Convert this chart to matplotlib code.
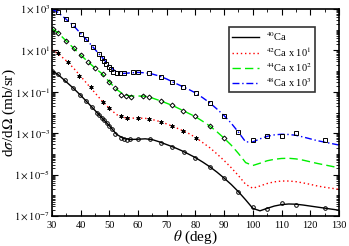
import numpy as np
import matplotlib
matplotlib.use("Agg")
import matplotlib.pyplot as plt
from matplotlib.ticker import LogLocator, MultipleLocator, FixedLocator, NullFormatter

plt.rcParams['font.family'] = ['Liberation Serif', 'DejaVu Serif']
plt.rcParams['mathtext.fontset'] = 'stix'

# theory curves (log10 of dsigma/dOmega, already scaled)
th_theta = [30, 32, 35, 37.5, 40, 42.5, 45, 47.5, 50, 52.5, 55, 57.5, 60, 62.5, 65, 67.5,
            70, 72.5, 75, 77.5, 80, 82.5, 85, 87.5, 90, 92.5, 95, 97.5, 100, 102.5,
            105, 107.5, 110, 112.5, 115, 117.5, 120, 122.5, 125, 127.5, 130]
th_ca40 = [0.02, -0.15, -0.52, -0.83, -1.17, -1.53, -1.90, -2.27, -2.64, -3.05, -3.26, -3.30,
           -3.29, -3.27, -3.31, -3.42, -3.55, -3.68, -3.83, -4.00, -4.18, -4.39, -4.62, -4.88,
           -5.17, -5.48, -5.83, -6.22, -6.63, -6.75, -6.63, -6.52, -6.45, -6.42, -6.43, -6.47,
           -6.52, -6.57, -6.62, -6.67, -6.72]
th_ca42 = [1.02, 0.86, 0.50, 0.15, -0.25, -0.65, -1.05, -1.45, -1.80, -2.10, -2.24, -2.27,
           -2.27, -2.28, -2.34, -2.43, -2.55, -2.69, -2.84, -3.00, -3.20, -3.45, -3.70, -4.00,
           -4.32, -4.67, -5.05, -5.47, -5.66, -5.55, -5.43, -5.35, -5.31, -5.31, -5.34, -5.40,
           -5.47, -5.55, -5.61, -5.66, -5.71]
th_ca44 = [2.05, 1.87, 1.45, 1.12, 0.78, 0.46, 0.15, -0.13, -0.52, -0.88, -1.13, -1.20,
           -1.20, -1.21, -1.30, -1.42, -1.55, -1.69, -1.86, -2.03, -2.20, -2.42, -2.65, -2.93,
           -3.24, -3.58, -3.98, -4.42, -4.56, -4.45, -4.33, -4.26, -4.22, -4.21, -4.24, -4.30,
           -4.38, -4.46, -4.53, -4.60, -4.67]
th_ca48 = [3.00, 2.85, 2.50, 2.20, 1.82, 1.45, 1.05, 0.66, 0.25, -0.05, -0.11, -0.08,
           -0.06, -0.08, -0.14, -0.24, -0.38, -0.55, -0.71, -0.87, -1.05, -1.28, -1.53, -1.83,
           -2.15, -2.52, -2.95, -3.42, -3.42, -3.27, -3.15, -3.08, -3.05, -3.06, -3.10, -3.18,
           -3.27, -3.36, -3.43, -3.50, -3.57]

# experimental points
ex_theta40 = [30, 32, 34.5, 37.2, 39.9, 42, 43.8, 45.6, 46.5, 47.3, 48.1, 49.1, 50, 50.9, 52,
              54, 55, 56, 57.2, 60, 64, 68, 72, 76, 80, 85, 90, 95, 100, 105, 110, 115, 125]
ex_ca40 = [0.0, -0.12, -0.45, -0.80, -1.15, -1.43, -1.72, -2.01, -2.12, -2.25, -2.36, -2.49,
           -2.64, -2.80, -3.04, -3.25, -3.29, -3.31, -3.29, -3.28, -3.29, -3.46, -3.65, -3.89,
           -4.18, -4.62, -5.18, -5.83, -6.58, -6.65, -6.39, -6.48, -6.63]
ex_theta42 = [32.2, 35.5, 39.5, 43.5, 47.9, 50, 53.9, 56, 60, 63.9, 67.9, 71.7, 75.7, 80.2]
ex_ca42 = [0.86, 0.45, -0.22, -0.78, -1.51, -1.80, -2.19, -2.25, -2.28, -2.31, -2.44, -2.65,
           -2.88, -3.23]
ex_theta44 = [30.3, 32.2, 35, 37.5, 40, 42.5, 45, 47.8, 49.8, 51.9, 54.2, 55.8, 57.5, 61.6,
              63.9, 67.9, 71.7, 75.7, 80, 85.1, 90]
ex_ca44 = [2.02, 1.84, 1.45, 1.13, 0.78, 0.46, 0.16, -0.15, -0.51, -0.80, -1.15, -1.19, -1.24,
           -1.19, -1.27, -1.43, -1.64, -1.91, -2.18, -2.65, -3.25]
ex_theta48 = [32, 35, 37.3, 40, 42, 44.2, 46.5, 47.3, 48, 48.8, 49.7, 50.7, 51.4, 52.6, 53.8,
              55, 58.1, 59.9, 63.9, 67.9, 71.7, 75.7, 80.2, 85.1, 90, 95, 100, 105, 110, 115, 125]
ex_ca48 = [2.85, 2.52, 2.23, 1.82, 1.55, 1.17, 0.83, 0.63, 0.49, 0.34, 0.20, 0.09, -0.02,
           -0.09, -0.11, -0.11, -0.06, -0.04, -0.11, -0.27, -0.51, -0.75, -1.07, -1.56, -2.17,
           -2.94, -3.34, -3.12, -3.13, -3.00, -3.33]

labels = [r'$^{40}$Ca', r'$^{42}$Ca x 10$^{1}$', r'$^{44}$Ca x 10$^{2}$', r'$^{48}$Ca x 10$^{3}$']

fig = plt.figure(figsize=(3.49, 2.46), dpi=100)
ax = fig.add_axes([0.149, 0.122, 0.822, 0.841])

pw = lambda v: 10 ** np.array(v)

ax.plot(th_theta, pw(th_ca40), color='black', lw=1.0, ls='-', label=labels[0])
ax.plot(th_theta, pw(th_ca42), color='red', lw=1.0, ls=(0, (1, 2)), label=labels[1])
ax.plot(th_theta, pw(th_ca44), color='#00ee00', lw=1.0, ls=(0, (6, 3)), label=labels[2])
ax.plot(th_theta, pw(th_ca48), color='blue', lw=1.0, ls=(0, (5, 2, 1, 2)), label=labels[3])

mk = dict(ls='none', mec='black', mfc='none', mew=0.7)
ax.plot(ex_theta40, pw(ex_ca40), marker='o', ms=2.6, **mk)
ax.plot(ex_theta42, pw(ex_ca42), marker=(6, 2, 0), ms=3.0, **mk)
ax.plot(ex_theta44, pw(ex_ca44), marker='D', ms=2.5, **mk)
ax.plot(ex_theta48, pw(ex_ca48), marker='s', ms=2.6, **mk)

ax.set_yscale('log')
ax.set_xlim(30, 130)
ax.set_ylim(1e-7, 1e3)
ax.xaxis.set_major_locator(MultipleLocator(10))
ax.xaxis.set_minor_locator(MultipleLocator(5))
ax.yaxis.set_major_locator(FixedLocator([10.0 ** k for k in range(-7, 4, 2)]))
ax.yaxis.set_minor_locator(LogLocator(base=10, subs=np.arange(1, 10), numticks=30))
ax.yaxis.set_minor_formatter(NullFormatter())
ax.set_yticklabels([r'$1\times10^{%d}$' % k for k in range(-7, 4, 2)])

ax.tick_params(which='both', direction='in', top=True, right=True, labelsize=7.5, pad=1.5)
ax.tick_params(axis='x', pad=3.5)
ax.tick_params(which='major', length=4, width=0.8)
ax.tick_params(which='minor', length=2, width=0.6)
for s in ax.spines.values():
    s.set_linewidth(1.2)

ax.set_xlabel(r'$\theta$ (deg)', fontsize=11, labelpad=-1)
ax.set_ylabel(r'd$\sigma$/d$\Omega$ (mb/sr)', fontsize=11)
ax.yaxis.set_label_coords(-0.12, 0.5)

leg = ax.legend(loc='upper right', bbox_to_anchor=(0.934, 0.939), fontsize=7.5, frameon=True,
                fancybox=False, edgecolor='black', handlelength=2.6, borderpad=0.3,
                labelspacing=0.2, handletextpad=0.6)
leg.get_frame().set_linewidth(1.2)

fig.savefig('out.png', dpi=100)
